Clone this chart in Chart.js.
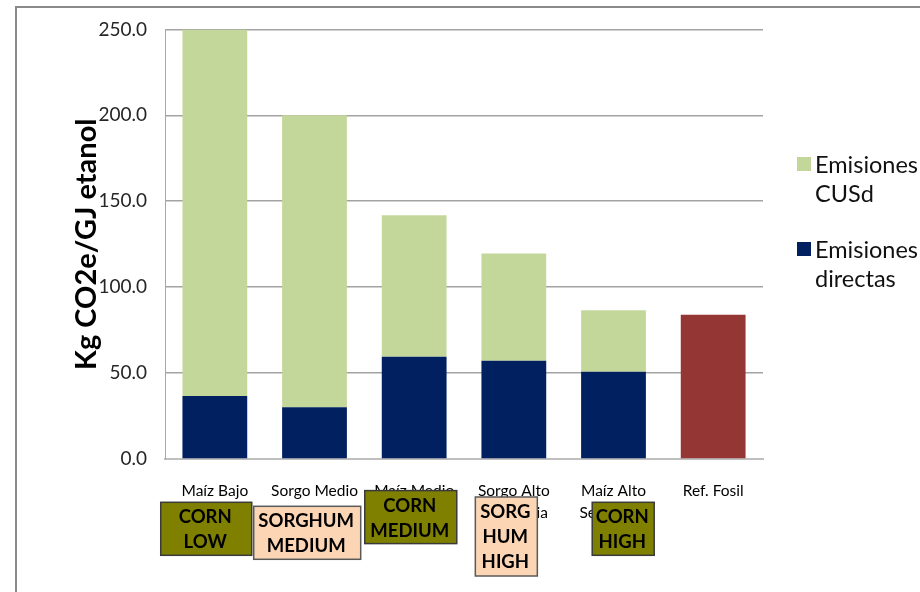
<!DOCTYPE html>
<html>
<head>
<meta charset="utf-8">
<script src="https://cdn.jsdelivr.net/npm/chart.js@4.4.1/dist/chart.umd.min.js"></script>
<style>
  html, body { margin: 0; padding: 0; background: #ffffff; }
  canvas { display: block; }
</style>
</head>
<body>
<canvas id="grafico" width="920" height="592"></canvas>
<script>
// Categorías del eje X (multilínea)
const categorias = [
  ['Maíz Bajo'],
  ['Sorgo Medio', 'Secuencia'],
  ['Maíz Medio'],
  ['Sorgo Alto', 'Secuencia'],
  ['Maíz Alto', 'Secuencia'],
  ['Ref. Fosil']
];
// Kg CO2e / GJ etanol
const emisionesDirectas = [36.7, 30.1, 59.5, 57.2, 50.8, null];
const emisionesCUSd     = [213.3, 169.9, 82.3, 62.4, 35.8, null];
const referenciaFosil   = [null, null, null, null, null, 83.9];
const ticksY = [0, 50, 100, 150, 200, 250];

// Etiquetas de cultivo superpuestas bajo el eje
const etiquetasCultivo = [
  { cat: 0, texto: ['CORN', 'LOW'],          tipo: 'corn' },
  { cat: 1, texto: ['SORGHUM', 'MEDIUM'],    tipo: 'sorghum' },
  { cat: 2, texto: ['CORN', 'MEDIUM'],       tipo: 'corn' },
  { cat: 3, texto: ['SORG', 'HUM', 'HIGH'],  tipo: 'sorghum' },
  { cat: 4, texto: ['CORN', 'HIGH'],         tipo: 'corn' }
];

const FUENTE = 'Lato, "Open Sans", sans-serif';
const COLORES = { cusd: '#C4D79B', directas: '#002060', fosil: '#943634' };
const ESTILO_CAJA = {
  corn:    { fill: '#808000', stroke: '#3a3a3a' },
  sorghum: { fill: '#FCD5B5', stroke: '#5a5a5a' }
};
// geometría de cada caja: desplazamiento desde el centro de la categoría y desde la base del área
const GEOM_CAJA = [
  { dx: -8.6, dy: 43.3, w: 91,  h: 53 },
  { dx: -7.3, dy: 47.3, w: 107, h: 53 },
  { dx: -3.4, dy: 31.6, w: 92,  h: 53 },
  { dx: -7.5, dy: 38.0, w: 62,  h: 79 },
  { dx:  9.7, dy: 43.3, w: 62,  h: 53 }
];

const marco = {
  id: 'marco',
  beforeDraw(chart) {
    const ctx = chart.ctx;
    ctx.save();
    ctx.strokeStyle = '#8a8a8a';
    ctx.lineWidth = 2;
    ctx.beginPath();
    ctx.moveTo(16, 592);
    ctx.lineTo(16, 7);
    ctx.lineTo(920, 7);
    ctx.stroke();
    ctx.restore();
  }
};

const leyendaYCajas = {
  id: 'leyendaYCajas',
  afterDraw(chart) {
    const ctx = chart.ctx;
    const area = chart.chartArea;
    const xs = chart.scales.x;
    ctx.save();

    // leyenda (orden inverso al apilado)
    const entradas = [chart.data.datasets[1], chart.data.datasets[0]];
    const lx = area.right + 34;
    const topes = [157, 242];
    ctx.font = '23.5px ' + FUENTE;
    ctx.textBaseline = 'alphabetic';
    ctx.textAlign = 'left';
    entradas.forEach((ds, i) => {
      const y0 = topes[i];
      ctx.fillStyle = ds.backgroundColor;
      ctx.fillRect(lx, y0, 14, 14);
      ctx.fillStyle = '#111111';
      const palabras = ds.label.split(' ');
      ctx.fillText(palabras[0], lx + 18, y0 + 16);
      ctx.fillText(palabras.slice(1).join(' '), lx + 18, y0 + 45);
    });

    // cajas de cultivo
    etiquetasCultivo.forEach((et, i) => {
      const g = GEOM_CAJA[i];
      const cx = xs.getPixelForValue(et.cat) + g.dx;
      const x0 = cx - g.w / 2;
      const y0 = area.bottom + g.dy;
      const st = ESTILO_CAJA[et.tipo];
      ctx.fillStyle = st.fill;
      ctx.fillRect(x0, y0, g.w, g.h);
      ctx.strokeStyle = st.stroke;
      ctx.lineWidth = 1.5;
      ctx.strokeRect(x0, y0, g.w, g.h);
      ctx.fillStyle = '#000000';
      ctx.font = 'bold 18.5px ' + FUENTE;
      ctx.textAlign = 'center';
      ctx.textBaseline = 'middle';
      const lh = 25;
      const n = et.texto.length;
      const cy = y0 + g.h / 2 + 1;
      et.texto.forEach((t, k) => {
        ctx.fillText(t, cx - 1, cy + (k - (n - 1) / 2) * lh);
      });
    });
    ctx.restore();
  }
};

new Chart(document.getElementById('grafico'), {
  type: 'bar',
  data: {
    labels: categorias,
    datasets: [
      { label: 'Emisiones directas', data: emisionesDirectas, backgroundColor: COLORES.directas },
      { label: 'Emisiones CUSd',     data: emisionesCUSd,     backgroundColor: COLORES.cusd },
      { label: 'Ref. Fosil',         data: referenciaFosil,   backgroundColor: COLORES.fosil }
    ]
  },
  options: {
    responsive: false,
    animation: false,
    devicePixelRatio: 1,
    layout: { padding: { left: 0, right: 157, top: 27, bottom: 0 } },
    datasets: { bar: { barPercentage: 0.65, categoryPercentage: 1.0, borderWidth: 0 } },
    plugins: { legend: { display: false }, tooltip: { enabled: false } },
    scales: {
      x: {
        stacked: true,
        grid: { display: false, drawTicks: false },
        border: { display: true, color: '#bfbfbf', width: 2 },
        ticks: {
          color: '#000000',
          font: { family: FUENTE, size: 15.5, lineHeight: 1.4 },
          padding: 21,
          maxRotation: 0,
          autoSkip: false
        },
        afterFit(s) { s.height = 133; }
      },
      y: {
        stacked: true,
        min: 0,
        max: 250,
        afterBuildTicks(s) { s.ticks = ticksY.map(v => ({ value: v })); },
        grid: {
          drawTicks: false,
          color: ctx => ctx.tick && ctx.tick.value === 0 ? 'rgba(0,0,0,0)' : '#a3a3a3',
          lineWidth: 1.5
        },
        border: { display: true, color: '#a8a8a8', width: 1 },
        ticks: {
          color: '#262626',
          font: { family: FUENTE, size: 19 },
          padding: 18,
          callback: v => Number(v).toFixed(1)
        },
        title: {
          display: true,
          text: 'Kg CO2e/GJ etanol',
          color: '#000000',
          font: { family: FUENTE, size: 29, weight: 'bold' },
          padding: { top: 69, bottom: 0 }
        },
        afterFit(s) { s.width = 165; }
      }
    }
  },
  plugins: [marco, leyendaYCajas]
});
</script>
</body>
</html>
